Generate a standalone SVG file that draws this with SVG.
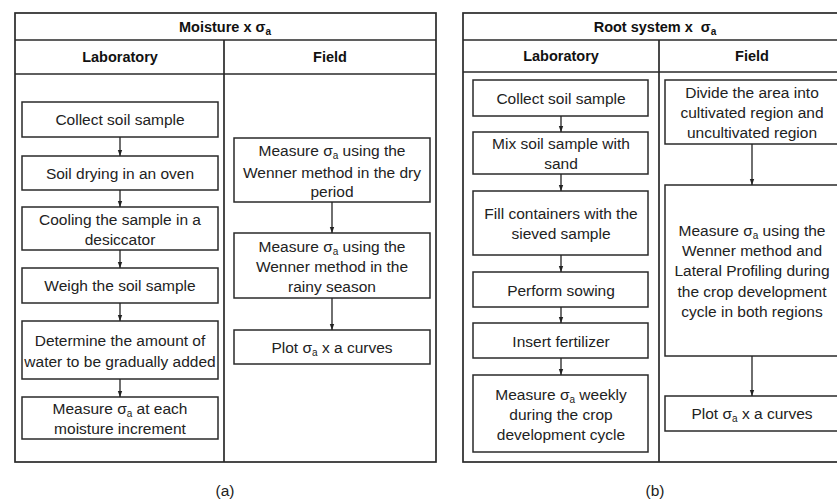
<svg xmlns="http://www.w3.org/2000/svg" width="837" height="503" viewBox="0 0 837 503">
<defs>
<marker id="ah" viewBox="0 0 6 6" refX="6" refY="3" markerWidth="6" markerHeight="6" markerUnits="userSpaceOnUse" orient="auto">
<path d="M0,0.8 L6,3 L0,5.2 Z" fill="#222"/>
</marker>
<style>
.panel{fill:#fff;stroke:#2a2a2a;stroke-width:1.7}
.sep{stroke:#2a2a2a;stroke-width:1.7;fill:none}
.box{fill:#fff;stroke:#2a2a2a;stroke-width:1.5}
.t{font-family:"Liberation Sans",Arial,sans-serif;font-size:15.5px;fill:#222;text-anchor:middle}
.h{font-family:"Liberation Sans",Arial,sans-serif;font-size:14.5px;font-weight:bold;fill:#111;text-anchor:middle}
.s{font-size:10px}
.conn line{stroke:#222;stroke-width:1.3;marker-end:url(#ah)}
</style>
</defs>
<rect width="837" height="503" fill="#fff"/>

<g id="panel-a">
<rect class="panel" x="15" y="13" width="421" height="449"/>
<line class="sep" x1="15" y1="40" x2="436" y2="40"/>
<line class="sep" x1="15" y1="74" x2="436" y2="74"/>
<line class="sep" x1="224" y1="40" x2="224" y2="462"/>
<text class="h" x="225" y="32">Moisture x σ<tspan class="s" dy="3">a</tspan></text>
<text class="h" x="120" y="62">Laboratory</text>
<text class="h" x="330" y="62">Field</text>
</g>

<g id="panel-b">
<rect class="panel" x="463" y="13" width="382" height="449"/>
<line class="sep" x1="463" y1="40" x2="845" y2="40"/>
<line class="sep" x1="463" y1="72" x2="845" y2="72"/>
<line class="sep" x1="659" y1="40" x2="659" y2="462"/>
<text class="h" x="655" y="32" xml:space="preserve">Root system x  σ<tspan class="s" dy="3">a</tspan></text>
<text class="h" x="561" y="61">Laboratory</text>
<text class="h" x="752" y="61">Field</text>
</g>

<g id="a-lab-1"><rect class="box" x="22" y="102" width="196" height="35"/><text class="t" x="120" y="125">Collect soil sample</text></g>
<g id="a-lab-2"><rect class="box" x="22" y="156" width="196" height="34"/><text class="t" x="120" y="179">Soil drying in an oven</text></g>
<g id="a-lab-3"><rect class="box" x="22" y="207" width="196" height="43"/><text class="t" x="120" y="225">Cooling the sample in a</text><text class="t" x="120" y="245">desiccator</text></g>
<g id="a-lab-4"><rect class="box" x="22" y="268" width="196" height="35"/><text class="t" x="120" y="291">Weigh the soil sample</text></g>
<g id="a-lab-5"><rect class="box" x="22" y="321" width="196" height="58"/><text class="t" x="120" y="346">Determine the amount of</text><text class="t" x="120" y="367">water to be gradually added</text></g>
<g id="a-lab-6"><rect class="box" x="22" y="397" width="196" height="42"/><text class="t" x="120" y="414">Measure σ<tspan class="s" dy="3">a</tspan><tspan dy="-3"> at each</tspan></text><text class="t" x="120" y="434">moisture increment</text></g>

<g id="a-field-1"><rect class="box" x="234" y="138" width="196" height="64"/><text class="t" x="332" y="156">Measure σ<tspan class="s" dy="3">a</tspan><tspan dy="-3"> using the</tspan></text><text class="t" x="332" y="178">Wenner method in the dry</text><text class="t" x="332" y="197">period</text></g>
<g id="a-field-2"><rect class="box" x="234" y="233" width="196" height="65"/><text class="t" x="332" y="252">Measure σ<tspan class="s" dy="3">a</tspan><tspan dy="-3"> using the</tspan></text><text class="t" x="332" y="272">Wenner method in the</text><text class="t" x="332" y="292">rainy season</text></g>
<g id="a-field-3"><rect class="box" x="234" y="330" width="196" height="34"/><text class="t" x="332" y="353">Plot σ<tspan class="s" dy="3">a</tspan><tspan dy="-3"> x a curves</tspan></text></g>

<g id="b-lab-1"><rect class="box" x="473" y="80" width="175" height="36"/><text class="t" x="561" y="104">Collect soil sample</text></g>
<g id="b-lab-2"><rect class="box" x="473" y="132" width="175" height="42"/><text class="t" x="561" y="149">Mix soil sample with</text><text class="t" x="561" y="169">sand</text></g>
<g id="b-lab-3"><rect class="box" x="473" y="191" width="175" height="64"/><text class="t" x="561" y="219">Fill containers with the</text><text class="t" x="561" y="239">sieved sample</text></g>
<g id="b-lab-4"><rect class="box" x="473" y="272" width="175" height="35"/><text class="t" x="561" y="296">Perform sowing</text></g>
<g id="b-lab-5"><rect class="box" x="473" y="323" width="175" height="35"/><text class="t" x="561" y="347">Insert fertilizer</text></g>
<g id="b-lab-6"><rect class="box" x="473" y="375" width="175" height="77"/><text class="t" x="561" y="400">Measure σ<tspan class="s" dy="3">a</tspan><tspan dy="-3"> weekly</tspan></text><text class="t" x="561" y="420">during the crop</text><text class="t" x="561" y="440">development cycle</text></g>

<g id="b-field-1"><rect class="box" x="665" y="80" width="174" height="64"/><text class="t" x="752" y="98">Divide the area into</text><text class="t" x="752" y="118">cultivated region and</text><text class="t" x="752" y="138">uncultivated region</text></g>
<g id="b-field-2"><rect class="box" x="665" y="185" width="174" height="171"/><text class="t" x="752" y="236">Measure σ<tspan class="s" dy="3">a</tspan><tspan dy="-3"> using the</tspan></text><text class="t" x="752" y="256">Wenner method and</text><text class="t" x="752" y="276">Lateral Profiling during</text><text class="t" x="752" y="297">the crop development</text><text class="t" x="752" y="317">cycle in both regions</text></g>
<g id="b-field-3"><rect class="box" x="665" y="396" width="174" height="35"/><text class="t" x="752" y="419">Plot σ<tspan class="s" dy="3">a</tspan><tspan dy="-3"> x a curves</tspan></text></g>

<g id="connectors" class="conn">
<line x1="120" y1="137" x2="120" y2="156"/>
<line x1="120" y1="190" x2="120" y2="207"/>
<line x1="120" y1="250" x2="120" y2="268"/>
<line x1="120" y1="303" x2="120" y2="321"/>
<line x1="120" y1="379" x2="120" y2="397"/>
<line x1="332" y1="202" x2="332" y2="233"/>
<line x1="332" y1="298" x2="332" y2="330"/>
<line x1="561" y1="116" x2="561" y2="132"/>
<line x1="561" y1="174" x2="561" y2="191"/>
<line x1="561" y1="255" x2="561" y2="272"/>
<line x1="561" y1="307" x2="561" y2="323"/>
<line x1="561" y1="358" x2="561" y2="375"/>
<line x1="752" y1="144" x2="752" y2="185"/>
<line x1="752" y1="356" x2="752" y2="396"/>
</g>

<text class="t" x="225" y="496">(a)</text>
<text class="t" x="655" y="496">(b)</text>
</svg>
